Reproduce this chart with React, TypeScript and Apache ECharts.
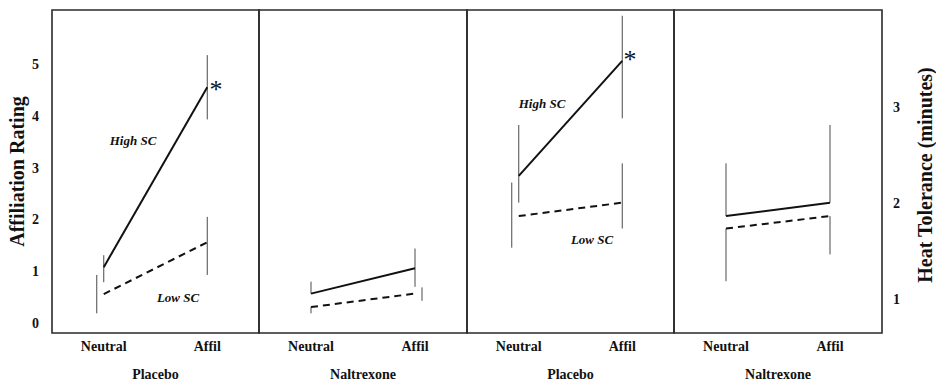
import React, { useEffect, useRef } from 'react';
import * as echarts from 'echarts';

// ---------------- data ----------------
const conditions = ['Neutral', 'Affil'];
const panelNames = ['Placebo', 'Naltrexone', 'Placebo', 'Naltrexone'];
const leftTicks = [0, 1, 2, 3, 4, 5];
const rightTicks = [1, 2, 3];
const leftAxisTitle = 'Affiliation Rating';
const rightAxisTitle = 'Heat Tolerance (minutes)';
const highLabel = 'High SC';
const lowLabel = 'Low SC';

// Affiliation rating (panels 1-2): means
const placeboHighAff = [1.09, 4.56];
const placeboLowAff = [0.57, 1.57];
const naltrexoneHighAff = [0.58, 1.07];
const naltrexoneLowAff = [0.32, 0.58];
// error bar ranges [low, high]
const placeboHighAffErr = [[0.8, 1.32], [3.94, 5.18]];
const placeboLowAffErr = [[0.2, 0.94], [0.94, 2.06]];
const naltrexoneHighAffErr = [[0.58, 0.81], [0.71, 1.45]];
const naltrexoneLowAffErr = [[0.2, 0.32], [0.44, 0.7]];

// Heat tolerance (panels 3-4): means
const placeboHighHeat = [2.29, 3.49];
const placeboLowHeat = [1.87, 2.01];
const naltrexoneHighHeat = [1.87, 2.01];
const naltrexoneLowHeat = [1.74, 1.87];
const placeboHighHeatErr = [[2.01, 2.82], [2.89, 3.96]];
const placeboLowHeatErr = [[1.54, 2.22], [1.74, 2.42]];
const naltrexoneHighHeatErr = [[1.87, 2.42], [2.01, 2.82]];
const naltrexoneLowHeatErr = [[1.19, 1.74], [1.47, 1.87]];

// ---------------- styling ----------------
const FONT = 'Liberation Serif, Times New Roman, serif';
const INK = '#111111';
const panelLefts = [52, 259, 467, 674];
const panelWidths = [207, 208, 207, 208];
const errOffsets = {
  p1low: [-7, 0],
  p2low: [0, 7],
  p3low: [-7, 0],
  none: [0, 0],
};

function errSeries(idx: number, ranges: number[][], offs: number[]) {
  return {
    type: 'custom',
    xAxisIndex: idx,
    yAxisIndex: idx,
    data: ranges.map((r, i) => [i, r[0], r[1]]),
    renderItem: (params: any, api: any) => {
      const x = api.value(0);
      const p1 = api.coord([x, api.value(1)]);
      const p2 = api.coord([x, api.value(2)]);
      const dx = offs[params.dataIndex] || 0;
      return {
        type: 'line',
        shape: { x1: p1[0] + dx, y1: p1[1], x2: p2[0] + dx, y2: p2[1] },
        style: { stroke: '#4a4a4a', lineWidth: 1 },
      };
    },
    silent: true,
    z: 3,
  };
}

function lineSeries(idx: number, values: number[], dashed: boolean) {
  return {
    type: 'line',
    xAxisIndex: idx,
    yAxisIndex: idx,
    data: values,
    symbol: 'none',
    lineStyle: { color: INK, width: 2, type: dashed ? [7, 5] : 'solid' },
    silent: true,
    z: 4,
  };
}

function annotation(text: string, x: number, y: number, size: number, italic: boolean, bold = true, va = 'middle', rotation = 0) {
  return {
    type: 'text',
    x,
    y,
    rotation,
    style: {
      text,
      fill: INK,
      font: `${italic ? 'italic ' : ''}${bold ? 'bold ' : ''}${size}px ${FONT}`,
      textAlign: 'center',
      textVerticalAlign: va,
    },
    z: 10,
  };
}

export default function App() {
  const ref = useRef<HTMLDivElement>(null);
  useEffect(() => {
    if (!ref.current) return;
    const chart = echarts.init(ref.current, null, { renderer: 'svg' });
    const grids = panelLefts.map((l, i) => ({
      left: l,
      top: 10,
      width: panelWidths[i],
      height: 323,
      show: true,
      borderColor: '#2a2a2a',
      borderWidth: 1.6,
      backgroundColor: 'transparent',
      containLabel: false,
      outerBoundsMode: 'none',
    }));
    const xAxes = panelNames.map((n, i) => ({
      type: 'category',
      gridIndex: i,
      data: conditions,
      boundaryGap: true,
      axisLine: { show: false },
      axisTick: { show: false },
      splitLine: { show: false },
      axisLabel: { fontFamily: FONT, fontWeight: 'bold', fontSize: 14, color: INK, margin: 6 },
      name: n,
      nameLocation: 'middle',
      nameGap: 34,
      nameTextStyle: { fontFamily: FONT, fontWeight: 'bold', fontSize: 14, color: INK },
    }));
    const baseY = (i: number, min: number, max: number) => ({
      type: 'value',
      gridIndex: i,
      min,
      max,
      axisLine: { show: false },
      axisTick: { show: false },
      splitLine: { show: false },
      axisLabel: { show: false },
    });
    const yAxes: any[] = [
      {
        ...baseY(0, -0.18, 6.05),
        axisLabel: {
          show: true,
          customValues: leftTicks,
          fontFamily: FONT,
          fontWeight: 'bold',
          fontSize: 14,
          color: INK,
          margin: 13,
        },
        name: leftAxisTitle,
        nameLocation: 'middle',
        nameRotate: 90,
        nameGap: 25,
        nameTextStyle: { fontFamily: FONT, fontWeight: 'bold', fontSize: 20, color: INK },
      },
      baseY(1, -0.18, 6.05),
      baseY(2, 0.65, 4.02),
      {
        ...baseY(3, 0.65, 4.02),
        position: 'right',
        axisLabel: {
          show: true,
          customValues: rightTicks,
          fontFamily: FONT,
          fontWeight: 'bold',
          fontSize: 14,
          color: INK,
          margin: 11,
        },
      },
    ];
    const series: any[] = [
      lineSeries(0, placeboHighAff, false),
      lineSeries(0, placeboLowAff, true),
      errSeries(0, placeboHighAffErr, errOffsets.none),
      errSeries(0, placeboLowAffErr, errOffsets.p1low),
      lineSeries(1, naltrexoneHighAff, false),
      lineSeries(1, naltrexoneLowAff, true),
      errSeries(1, naltrexoneHighAffErr, errOffsets.none),
      errSeries(1, naltrexoneLowAffErr, errOffsets.p2low),
      lineSeries(2, placeboHighHeat, false),
      lineSeries(2, placeboLowHeat, true),
      errSeries(2, placeboHighHeatErr, errOffsets.none),
      errSeries(2, placeboLowHeatErr, errOffsets.p3low),
      lineSeries(3, naltrexoneHighHeat, false),
      lineSeries(3, naltrexoneLowHeat, true),
      errSeries(3, naltrexoneHighHeatErr, errOffsets.none),
      errSeries(3, naltrexoneLowHeatErr, errOffsets.none),
    ];
    chart.setOption({
      animation: false,
      backgroundColor: '#ffffff',
      grid: grids,
      xAxis: xAxes,
      yAxis: yAxes,
      series,
      graphic: [
        annotation(highLabel, 133, 140, 13, true),
        annotation(lowLabel, 178, 297, 13, true),
        annotation('*', 216, 76, 26, false, false, 'top'),
        annotation(highLabel, 542, 103, 13, true),
        annotation(lowLabel, 592, 239, 13, true),
        annotation('*', 630, 46, 26, false, false, 'top'),
        annotation(rightAxisTitle, 925, 175, 20, false, true, 'middle', Math.PI / 2),
      ],
    });
    return () => chart.dispose();
  }, []);
  return (
    <div
      ref={ref}
      style={{ position: 'absolute', left: 0, top: 0, width: 936, height: 380 }}
    />
  );
}
